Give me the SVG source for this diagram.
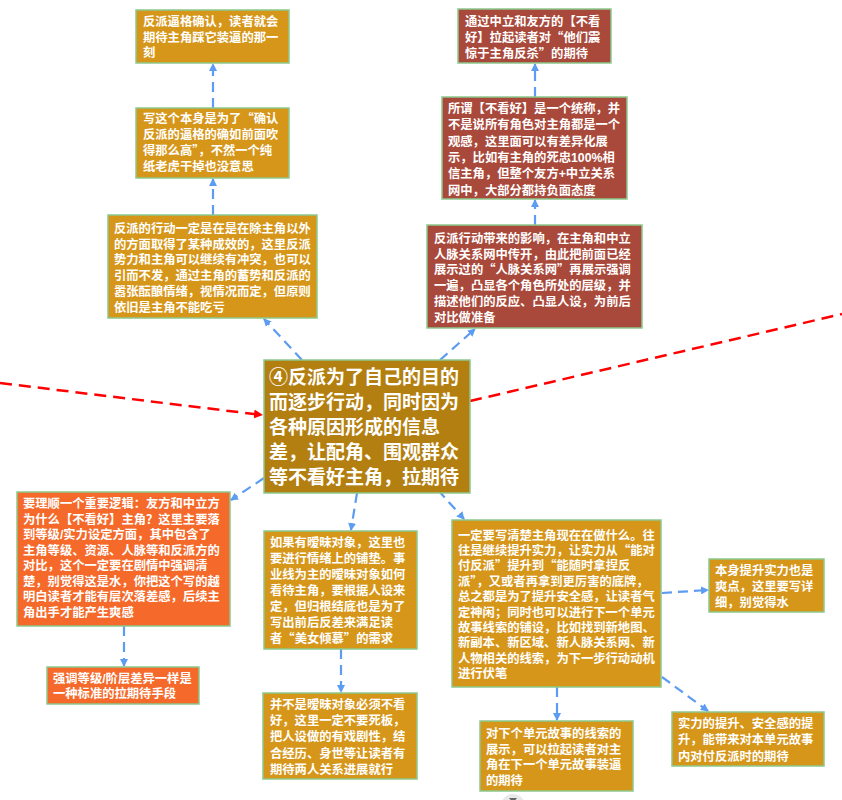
<svg xmlns="http://www.w3.org/2000/svg" width="842" height="800" viewBox="0 0 842 800">
<style>
.n{stroke:#8cc98c;stroke-width:1.5}
.g{fill:#d69619}
.c{fill:#b37f10}
.r{fill:#a9493b}
.o{fill:#f5692a}
text{font-family:"Liberation Sans","Noto Sans CJK SC",sans-serif;font-weight:bold;fill:#ffffff;font-size:12.3px}
.q{font-family:"Noto Sans CJK SC",sans-serif}
.big{font-size:19px}
.bl{fill:none;stroke:#5c9cf2;stroke-width:2.2;stroke-dasharray:10 6;marker-end:url(#ab)}
.rd{fill:none;stroke:#ff0000;stroke-width:2.5;stroke-dasharray:12 7}
</style>
<defs>
<marker id="ab" markerWidth="8" markerHeight="8" refX="7" refY="4" orient="auto" markerUnits="userSpaceOnUse">
<path d="M0,0 L8,4 L0,8 z" fill="#5c9cf2"/>
</marker>
<marker id="ar" markerWidth="9" markerHeight="9" refX="8" refY="4.5" orient="auto" markerUnits="userSpaceOnUse">
<path d="M0,0 L9,4.5 L0,9 z" fill="#ff0000"/>
</marker>
</defs>
<rect width="842" height="800" fill="#ffffff"/>

<g id="connectors">
<path class="rd" d="M0,383 L262,415" marker-end="url(#ar)"/>
<path class="rd" d="M470,401 L842,314"/>
<path class="bl" d="M302,360 L264,319"/>
<path class="bl" d="M440,360 L475,329"/>
<path class="bl" d="M213,215 L213,179"/>
<path class="bl" d="M213,108 L213,64"/>
<path class="bl" d="M535,225 L535,200"/>
<path class="bl" d="M535,97 L535,64"/>
<path class="bl" d="M264,478 L231,500"/>
<path class="bl" d="M357,493 L351,530"/>
<path class="bl" d="M438,490 L464,519"/>
<path class="bl" d="M124,626 L124,666"/>
<path class="bl" d="M341,649 L341,692"/>
<path class="bl" d="M557,687 L557,720"/>
<path class="bl" d="M662,593 L708,590"/>
<path class="bl" d="M662,677 L708,711"/>
</g>

<g id="n1">
<rect class="n g" x="136" y="10" width="153" height="53"/>
<text x="143" y="26"><tspan x="143">反派逼格确认，读者就会</tspan><tspan x="143" dy="15.5">期待主角踩它装逼的那一</tspan><tspan x="143" dy="15.5">刻</tspan></text>
</g>
<g id="n2">
<rect class="n g" x="136" y="108" width="153" height="70"/>
<text x="143" y="123"><tspan x="143">写这个本身是为了<tspan class="q">“</tspan>确认</tspan><tspan x="143" dy="16">反派的逼格的确如前面吹</tspan><tspan x="143" dy="16">得那么高<tspan class="q">”</tspan>，不然一个纯</tspan><tspan x="143" dy="16">纸老虎干掉也没意思</tspan></text>
</g>
<g id="n3">
<rect class="n g" x="108" y="215" width="209" height="103"/>
<text x="114" y="233"><tspan x="114">反派的行动一定是在是在除主角以外</tspan><tspan x="114" dy="15.7">的方面取得了某种成效的，这里反派</tspan><tspan x="114" dy="15.7">势力和主角可以继续有冲突，也可以</tspan><tspan x="114" dy="15.7">引而不发，通过主角的蓄势和反派的</tspan><tspan x="114" dy="15.7">嚣张酝酿情绪，视情况而定，但原则</tspan><tspan x="114" dy="15.7">依旧是主角不能吃亏</tspan></text>
</g>
<g id="n4">
<rect class="n r" x="458" y="9" width="153" height="54"/>
<text x="465" y="26"><tspan x="465">通过中立和友方的【不看</tspan><tspan x="465" dy="15.8">好】拉起读者对<tspan class="q">“</tspan>他们震</tspan><tspan x="465" dy="15.8">惊于主角反杀<tspan class="q">”</tspan>的期待</tspan></text>
</g>
<g id="n5">
<rect class="n r" x="442" y="97" width="185" height="102"/>
<text x="448" y="113"><tspan x="448">所谓【不看好】是一个统称，并</tspan><tspan x="448" dy="16.3">不是说所有角色对主角都是一个</tspan><tspan x="448" dy="16.3">观感，这里面可以有差异化展</tspan><tspan x="448" dy="16.3">示，比如有主角的死忠100%相</tspan><tspan x="448" dy="16.3">信主角，但整个友方+中立关系</tspan><tspan x="448" dy="16.3">网中，大部分都持负面态度</tspan></text>
</g>
<g id="n6">
<rect class="n r" x="427" y="225" width="215" height="103"/>
<text x="434" y="243"><tspan x="434">反派行动带来的影响，在主角和中立</tspan><tspan x="434" dy="15.7">人脉关系网中传开，由此把前面已经</tspan><tspan x="434" dy="15.7">展示过的<tspan class="q">“</tspan>人脉关系网<tspan class="q">”</tspan>再展示强调</tspan><tspan x="434" dy="15.7">一遍，凸显各个角色所处的层级，并</tspan><tspan x="434" dy="15.7">描述他们的反应、凸显人设，为前后</tspan><tspan x="434" dy="15.7">对比做准备</tspan></text>
</g>
<g id="n7">
<rect class="n c" x="264" y="360" width="206" height="133"/>
<text class="big" x="269" y="384"><tspan x="269">④反派为了自己的目的</tspan><tspan x="269" dy="25">而逐步行动，同时因为</tspan><tspan x="269" dy="25">各种原因形成的信息</tspan><tspan x="269" dy="25">差，让配角、围观群众</tspan><tspan x="269" dy="25">等不看好主角，拉期待</tspan></text>
</g>
<g id="n8">
<rect class="n o" x="17" y="492" width="213" height="134"/>
<text x="23" y="508"><tspan x="23">要理顺一个重要逻辑：友方和中立方</tspan><tspan x="23" dy="15.5">为什么【不看好】主角？这里主要落</tspan><tspan x="23" dy="15.5">到等级/实力设定方面，其中包含了</tspan><tspan x="23" dy="15.5">主角等级、资源、人脉等和反派方的</tspan><tspan x="23" dy="15.5">对比，这个一定要在剧情中强调清</tspan><tspan x="23" dy="15.5">楚，别觉得这是水，你把这个写的越</tspan><tspan x="23" dy="15.5">明白读者才能有层次落差感，后续主</tspan><tspan x="23" dy="15.5">角出手才能产生爽感</tspan></text>
</g>
<g id="n9">
<rect class="n o" x="47" y="667" width="152" height="37"/>
<text x="53" y="683"><tspan x="53">强调等级/阶层差异一样是</tspan><tspan x="53" dy="15">一种标准的拉期待手段</tspan></text>
</g>
<g id="n10">
<rect class="n g" x="264" y="531" width="153" height="118"/>
<text x="270" y="547"><tspan x="270">如果有暧昧对象，这里也</tspan><tspan x="270" dy="16">要进行情绪上的铺垫。事</tspan><tspan x="270" dy="16">业线为主的暧昧对象如何</tspan><tspan x="270" dy="16">看待主角，要根据人设来</tspan><tspan x="270" dy="16">定，但归根结底也是为了</tspan><tspan x="270" dy="16">写出前后反差来满足读</tspan><tspan x="270" dy="16">者<tspan class="q">“</tspan>美女倾慕<tspan class="q">”</tspan>的需求</tspan></text>
</g>
<g id="n11">
<rect class="n g" x="263" y="693" width="154" height="86"/>
<text x="270" y="709"><tspan x="270">并不是暧昧对象必须不看</tspan><tspan x="270" dy="16.2">好，这里一定不要死板，</tspan><tspan x="270" dy="16.2">把人设做的有戏剧性，结</tspan><tspan x="270" dy="16.2">合经历、身世等让读者有</tspan><tspan x="270" dy="16.2">期待两人关系进展就行</tspan></text>
</g>
<g id="n12">
<rect class="n g" x="452" y="520" width="209" height="167"/>
<text x="458" y="539.5"><tspan x="458">一定要写清楚主角现在在做什么。往</tspan><tspan x="458" dy="15.4">往是继续提升实力，让实力从<tspan class="q">“</tspan>能对</tspan><tspan x="458" dy="15.4">付反派<tspan class="q">”</tspan>提升到<tspan class="q">“</tspan>能随时拿捏反</tspan><tspan x="458" dy="15.4">派<tspan class="q">”</tspan>，又或者再拿到更厉害的底牌，</tspan><tspan x="458" dy="15.4">总之都是为了提升安全感，让读者气</tspan><tspan x="458" dy="15.4">定神闲；同时也可以进行下一个单元</tspan><tspan x="458" dy="15.4">故事线索的铺设，比如找到新地图、</tspan><tspan x="458" dy="15.4">新副本、新区域、新人脉关系网、新</tspan><tspan x="458" dy="15.4">人物相关的线索，为下一步行动动机</tspan><tspan x="458" dy="15.4">进行伏笔</tspan></text>
</g>
<g id="n13">
<rect class="n g" x="709" y="559" width="115" height="53"/>
<text x="715" y="574.5"><tspan x="715">本身提升实力也是</tspan><tspan x="715" dy="16">爽点，这里要写详</tspan><tspan x="715" dy="16">细，别觉得水</tspan></text>
</g>
<g id="n14">
<rect class="n g" x="672" y="712" width="152" height="54"/>
<text x="678" y="728"><tspan x="678">实力的提升、安全感的提</tspan><tspan x="678" dy="16.3">升，能带来对本单元故事</tspan><tspan x="678" dy="16.3">内对付反派时的期待</tspan></text>
</g>
<g id="n15">
<rect class="n g" x="480" y="721" width="153" height="70"/>
<text x="486" y="738"><tspan x="486">对下个单元故事的线索的</tspan><tspan x="486" dy="15.6">展示，可以拉起读者对主</tspan><tspan x="486" dy="15.6">角在下一个单元故事装逼</tspan><tspan x="486" dy="15.6">的期待</tspan></text>
</g>
<g id="collapse">
<circle cx="513" cy="806" r="12" fill="#e9e9e9"/>
<polygon points="509,798 517,798 513,803" fill="#666666"/>
</g>
</svg>
